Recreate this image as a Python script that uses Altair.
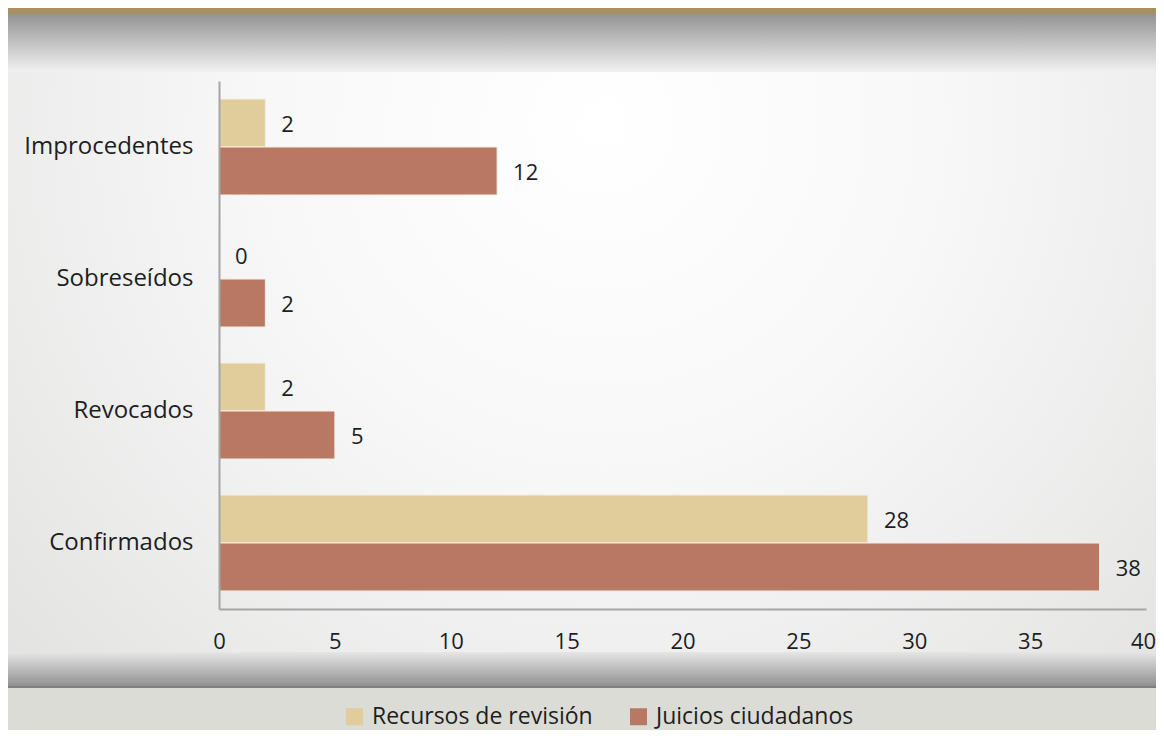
import altair as alt
import pandas as pd

categories = ["Improcedentes", "Sobreseídos", "Revocados", "Confirmados"]
series = ["Recursos de revisión", "Juicios ciudadanos"]
recursos = [2, 0, 2, 28]
juicios = [12, 2, 5, 38]
x_ticks = [0, 5, 10, 15, 20, 25, 30, 35, 40]
colors = ["#E1CD9C", "#B97863"]

rows = []
for c, r, j in zip(categories, recursos, juicios):
    rows.append({"cat": c, "serie": series[0], "valor": r})
    rows.append({"cat": c, "serie": series[1], "valor": j})
df = pd.DataFrame(rows)

W, H = 927, 528
OX, OY = 219, 81  # page position of plot origin

one = pd.DataFrame({"k": [0]})


def band(x1, y1, x2, y2, fill):
    return alt.Chart(one).mark_rect(fill=fill, strokeWidth=0).encode(
        x=alt.value(x1 - OX), x2=alt.value(x2 - OX),
        y=alt.value(y1 - OY), y2=alt.value(y2 - OY))


def vgrad(c1, c2):
    return alt.LinearGradient(gradient="linear", x1=0, y1=0, x2=0, y2=1,
                              stops=[alt.GradientStop(offset=0, color=c1),
                                     alt.GradientStop(offset=1, color=c2)])


radial = alt.RadialGradient(gradient="radial", x1=0.5, y1=0.3, r1=0,
                            x2=0.5, y2=0.3, r2=0.7,
                            stops=[alt.GradientStop(offset=0, color="#FFFFFF"),
                                   alt.GradientStop(offset=0.4, color="#F8F8F8"),
                                   alt.GradientStop(offset=1, color="#E1E2E0")])

bg = [
    band(0, 0, 1200, 800, "#DCDCD6"),
    band(5, 0, 1200, 14, "#A89060"),
    band(5, 72, 1200, 652, radial),
    band(5, 14, 1200, 72, vgrad("#939393", "#F1F1F1")),
    band(5, 652, 1200, 687, vgrad("#E6E6E6", "#8E8E8E")),
    band(5, 686, 1200, 688, "#7E7E7E"),
]

base = alt.Chart(df).encode(
    y=alt.Y("cat:N", sort=categories, title=None,
            scale=alt.Scale(paddingInner=0.273, paddingOuter=0.1365),
            axis=alt.Axis(labelFontSize=24, labelPadding=26, ticks=False,
                          domainColor="#A6A6A6", domainWidth=2, zindex=1,
                          labelColor="#1E1E1E", labelFont="Open Sans",
                          labelLimit=300)),
    yOffset=alt.YOffset("serie:N", sort=series,
                        scale=alt.Scale(paddingInner=0, paddingOuter=0)),
)

bars = base.mark_bar(stroke="#F4EEE4", strokeWidth=1).encode(
    x=alt.X("valor:Q", title=None,
            scale=alt.Scale(domain=[0, 40], nice=False),
            axis=alt.Axis(values=x_ticks, labelFontSize=22, labelPadding=22,
                          ticks=False, grid=False, domainColor="#A6A6A6",
                          domainWidth=2, labelColor="#1E1E1E", zindex=1,
                          labelFont="Open Sans", labelFlush=False,
                          labelOffset={"condition": {"test": "datum.value == 40",
                                                     "value": -3},
                                       "value": 0})),
    color=alt.Color("serie:N", sort=series, title=None,
                    scale=alt.Scale(domain=series, range=colors),
                    legend=alt.Legend(orient="none", legendX=124, legendY=624,
                                      direction="horizontal", symbolType="square",
                                      symbolSize=289, symbolStrokeWidth=0,
                                      labelFontSize=23, labelFont="Open Sans",
                                      labelColor="#1E1E1E", columnPadding=34,
                                      labelOffset=6, labelLimit=400)),
)

labels = base.mark_text(align="left", baseline="middle", dx=16, dy=2,
                        fontSize=22, font="Open Sans", color="#1E1E1E").encode(
    x="valor:Q", text="valor:Q")

chart = alt.layer(*bg, bars, labels).properties(
    width=W, height=H,
    padding={"left": 211, "top": 73, "right": 10, "bottom": 121},
    autosize=alt.AutoSizeParams(type="none"),
).configure_view(stroke=None).configure(background="white")

chart.save("out.html", embed_options={"renderer": "svg", "actions": False})
